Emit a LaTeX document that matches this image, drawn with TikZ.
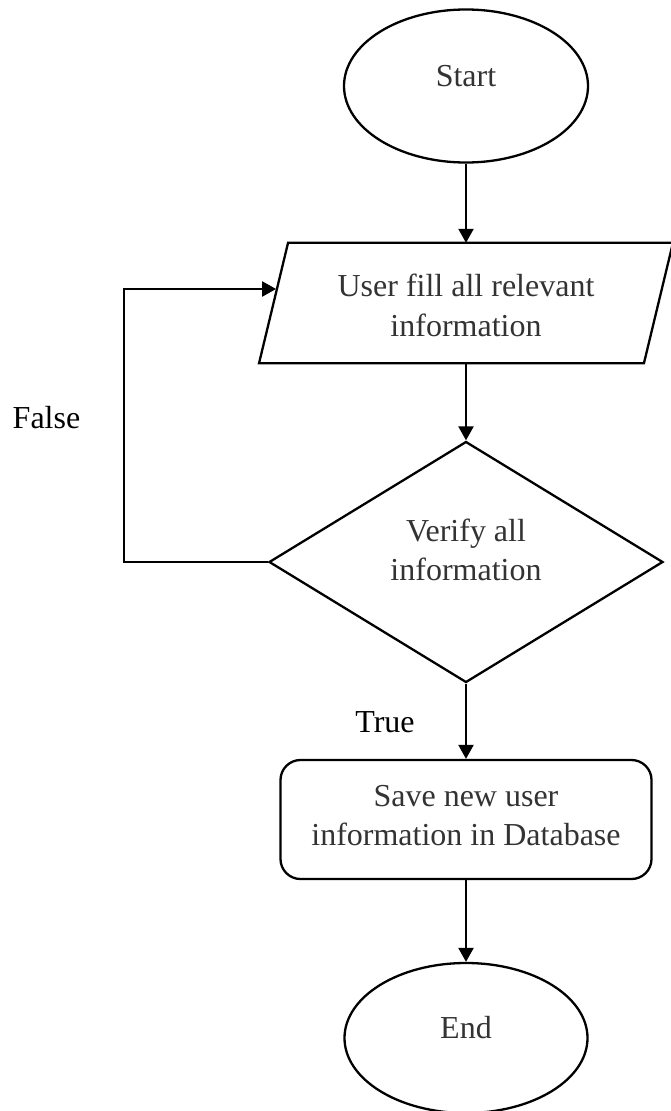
\documentclass[tikz,border=0pt]{standalone}
\usepackage{fontspec}
\setmainfont{Liberation Serif}
\usetikzlibrary{shapes.geometric,arrows.meta}
\definecolor{txtgray}{HTML}{333333}
\tikzset{
  shapeline/.style={draw=black, line width=2.3pt},
  conn/.style={draw=black, line width=2.3pt, -{Triangle[length=14pt,width=15pt]}},
  boxtext/.style={inner sep=0pt, align=center, text=txtgray, font=\fontsize{32}{39.5}\selectfont},
  labtext/.style={inner sep=0pt, text=black, font=\fontsize{32}{39.5}\selectfont},
}
\begin{document}
\begin{tikzpicture}[x=1pt,y=-1pt]
\useasboundingbox (0,0) rectangle (671,1111);
% shapes
\node[shapeline, ellipse, inner sep=0pt, minimum width=244pt, minimum height=153pt] (start) at (466,86) {};
\node[inner sep=0pt, minimum width=384.5pt, minimum height=120pt] (input) at (466,303) {};
\draw[shapeline] ([xshift=14.5pt]input.north west) -- ([xshift=14.5pt]input.north east)
  -- ([xshift=-14.5pt]input.south east) -- ([xshift=-14.5pt]input.south west) -- cycle;
\node[shapeline, diamond, inner sep=0pt, minimum width=394pt, minimum height=241pt] (dec) at (466,562) {};
\node[shapeline, rectangle, rounded corners=20pt, inner sep=0pt, minimum width=371pt, minimum height=119pt] (save) at (466,819.5) {};
\node[shapeline, ellipse, inner sep=0pt, minimum width=243pt, minimum height=150pt] (end) at (466,1038) {};
% texts
\node[boxtext] (starttxt) at (466,76.4) {Start};
\node[boxtext] (inputtxt) at (466,305.5) {User fill all relevant\\information};
\node[boxtext] (dectxt) at (466,550) {Verify all\\information};
\node[boxtext] (savetxt) at (466,815.7) {Save new user\\information in Database};
\node[boxtext] (endtxt) at (466,1027.4) {End};
\node[labtext, anchor=base] (falselab) at (46.5,428) {False};
\node[labtext, anchor=base] (truelab) at (385,732) {True};
% connectors
\coordinate (loopin) at (276.1,289);
\draw[conn] (start.south) -- (input.north);
\draw[conn] (input.south) -- (dec.north);
\draw[conn] (dec.west) -- (124,562) -- (124,289) -- (loopin);
\draw[conn] (dec.south) -- (save.north);
\draw[conn] (save.south) -- (end.north);
\end{tikzpicture}
\end{document}
